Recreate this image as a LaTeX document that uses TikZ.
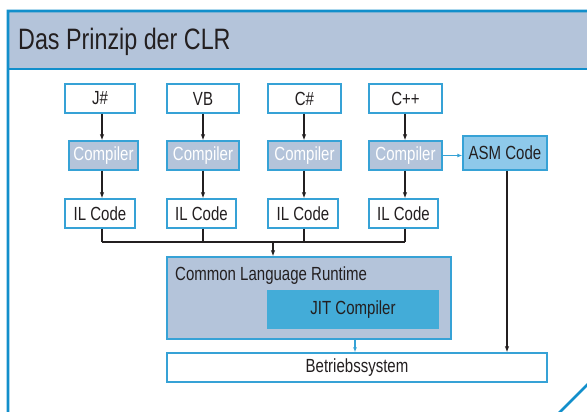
\documentclass[tikz,border=0pt]{standalone}
\usepackage{fontspec}
\setmainfont[FakeStretch=0.79]{Liberation Sans}
\usetikzlibrary{arrows.meta}
\definecolor{frameblue}{HTML}{128FCB}
\definecolor{boxblue}{HTML}{36A2D6}
\definecolor{grayblue}{HTML}{B4C4DA}
\definecolor{asmblue}{HTML}{8EC9EA}
\definecolor{jitblue}{HTML}{43ACD8}
\definecolor{txt}{HTML}{231F20}
\begin{document}
\begin{tikzpicture}[x=1pt,y=-1pt,
  every node/.style={inner sep=0pt,text=txt,font=\fontsize{19}{21}\selectfont},
  srcbox/.style={draw=boxblue,line width=1.4pt,fill=white,minimum height=29pt},
  compbox/.style={draw=boxblue,line width=1.4pt,fill=grayblue,minimum height=29pt,text=white},
  arr/.style={-{Latex[length=6pt,width=4.5pt]},line width=1.1pt,draw=txt},
  barr/.style={-{Latex[length=5pt,width=4pt]},line width=1.1pt,draw=boxblue},
  ln/.style={line width=1.1pt,draw=txt}]
\useasboundingbox (0,0) rectangle (587,412);
\begin{scope}
\clip (0,0) rectangle (587,412);
\fill[white] (8,430) -- (8,11) -- (600,11) -- (600,372) -- (542,430) -- cycle;
\fill[grayblue] (8,11) rectangle (600,69);
\draw[frameblue,line width=2.6pt] (8,430) -- (8,11) -- (600,11) -- (600,372) -- (542,430) -- cycle;
\draw[frameblue,line width=2.6pt] (8,69) -- (600,69);
\end{scope}
\node[anchor=base west,font=\fontsize{29.5}{32}\selectfont] (title) at (18,50) {Das Prinzip der CLR};
% columns
\coordinate (c1) at (102,0);
\coordinate (c2) at (203,0);
\coordinate (c3) at (304,0);
\coordinate (c4) at (405,0);
% source boxes
\node[srcbox,minimum width=70pt] (s1) at (100,98.5) {J\#};
\node[srcbox,minimum width=72pt] (s2) at (203,98.5) {VB};
\node[srcbox,minimum width=73pt] (s3) at (304.5,98.5) {C\#};
\node[srcbox,minimum width=73pt] (s4) at (405.5,98.5) {C++};
% compilers
\node[compbox,minimum width=69pt] (k1) at (103.5,155.5) {Compiler};
\node[compbox,minimum width=72pt] (k2) at (203,155.5) {Compiler};
\node[compbox,minimum width=73pt] (k3) at (304.5,155.5) {Compiler};
\node[compbox,minimum width=73pt] (k4) at (405.5,155.5) {Compiler};
% IL code
\node[srcbox,minimum width=70pt] (i1) at (100,213.5) {IL Code};
\node[srcbox,minimum width=69pt] (i2) at (201.5,213.5) {IL Code};
\node[srcbox,minimum width=70pt] (i3) at (303,213.5) {IL Code};
\node[srcbox,minimum width=69pt] (i4) at (403.5,213.5) {IL Code};
% ASM
\node[draw=boxblue,line width=1.4pt,fill=asmblue,minimum width=84pt,minimum height=34pt] (asm) at (505,153) {ASM Code};
% CLR
\node[draw=boxblue,line width=1.4pt,fill=grayblue,minimum width=284pt,minimum height=82pt] (clr) at (309,298) {};
\node[anchor=base west] (clrtext) at (175,280) {Common Language Runtime};
\node[fill=jitblue,minimum width=172pt,minimum height=39pt] (jit) at (353,309.5) {JIT Compiler};
% OS
\node[srcbox,minimum width=380pt] (os) at (357,367.5) {Betriebssystem};
% arrows
\foreach \i in {1,2,3,4}{
  \draw[arr] (s\i.south -| c\i) -- (k\i.north -| c\i);
  \draw[arr] (k\i.south -| c\i) -- (i\i.north -| c\i);
}
\coordinate (busL) at (102,242);
\coordinate (busR) at (405,242);
\coordinate (busM) at (273,242);
\foreach \i in {1,2,3,4}{
  \draw[ln] (i\i.south -| c\i) -- (c\i |- busL);
}
\draw[ln] (busL) -- (busR);
\draw[arr] (busM) -- (busM |- clr.north);
\draw[barr] (k4.east) -- (asm.west |- k4.east);
\coordinate (asmx) at (507,0);
\draw[arr] (asm.south -| asmx) -- (os.north -| asmx);
\coordinate (clrx) at (355,0);
\draw[barr] (clr.south -| clrx) -- (os.north -| clrx);
\end{tikzpicture}
\end{document}
